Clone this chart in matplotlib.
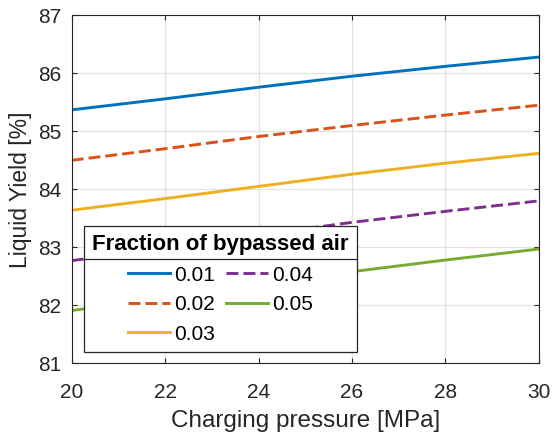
import matplotlib
matplotlib.use("Agg")
import matplotlib.pyplot as plt
from matplotlib.lines import Line2D

plt.rcParams['font.family'] = ['Liberation Sans', 'DejaVu Sans']

pressure = [20, 22, 24, 26, 28, 30]
fractions = ['0.01', '0.02', '0.03', '0.04', '0.05']
yield_001 = [85.37, 85.56, 85.76, 85.95, 86.12, 86.28]
yield_002 = [84.50, 84.70, 84.91, 85.10, 85.28, 85.45]
yield_003 = [83.64, 83.84, 84.05, 84.26, 84.45, 84.62]
yield_004 = [82.77, 82.98, 83.21, 83.43, 83.62, 83.80]
yield_005 = [81.91, 82.13, 82.36, 82.58, 82.78, 82.97]
series = [yield_001, yield_002, yield_003, yield_004, yield_005]

colors = ['#0072BD', '#D95319', '#EDB120', '#7E2F8E', '#77AC30']
styles = ['-', '--', '-', '--', '-']
dark = '#262626'

fig = plt.figure(figsize=(5.53, 4.34), dpi=100)
ax = fig.add_axes([0.1297, 0.1629, 0.8445, 0.8018])

for vals, lab, c, ls in zip(series, fractions, colors, styles):
    line, = ax.plot(pressure, vals, color=c, linestyle=ls, linewidth=2.1, label=lab)
    if ls == '--':
        line.set_dashes((4.1, 1.7))

ax.set_xlim(20, 30)
ax.set_ylim(81, 87)
ax.set_xticks([20, 22, 24, 26, 28, 30])
ax.set_yticks([81, 82, 83, 84, 85, 86, 87])
ax.grid(True, color='#E2E2E2', linewidth=0.9)
ax.set_axisbelow(True)
ax.tick_params(direction='in', top=True, right=True, labelsize=15,
               length=3.8, width=0.8, colors=dark)
ax.tick_params(axis='x', pad=14.5)
ax.tick_params(axis='y', pad=7.5)
for sp in ax.spines.values():
    sp.set_color(dark)
    sp.set_linewidth(0.8)
ax.set_xlabel('Charging pressure [MPa]', fontsize=17.5, color=dark, labelpad=5.5)
ax.set_ylabel('Liquid Yield [%]', fontsize=16.5, color=dark, labelpad=4.5)

leg = ax.legend(ncol=2, loc='upper left', bbox_to_anchor=(0.0255, 0.3945),
                fontsize=15, title='Fraction of bypassed air',
                title_fontproperties={'weight': 'bold', 'size': 16},
                frameon=True, fancybox=False, framealpha=1, edgecolor=dark,
                handlelength=2.0, handletextpad=0.2, columnspacing=0.54,
                labelspacing=0.5, borderpad=0.4, borderaxespad=0)
leg.get_frame().set_linewidth(0.9)
for h in leg.get_lines():
    h.set_linewidth(2.1)

# Separator between the legend title and its entries
fig.canvas.draw()
fbox = leg.get_frame().get_window_extent()
tbox = leg.get_title().get_window_extent()
ysep = (tbox.y0 - 4) / fig.bbox.height
fig.add_artist(Line2D([fbox.x0 / fig.bbox.width, fbox.x1 / fig.bbox.width],
                      [ysep, ysep], color=dark, linewidth=0.9, zorder=10))

fig.savefig('out.png', dpi=100)
